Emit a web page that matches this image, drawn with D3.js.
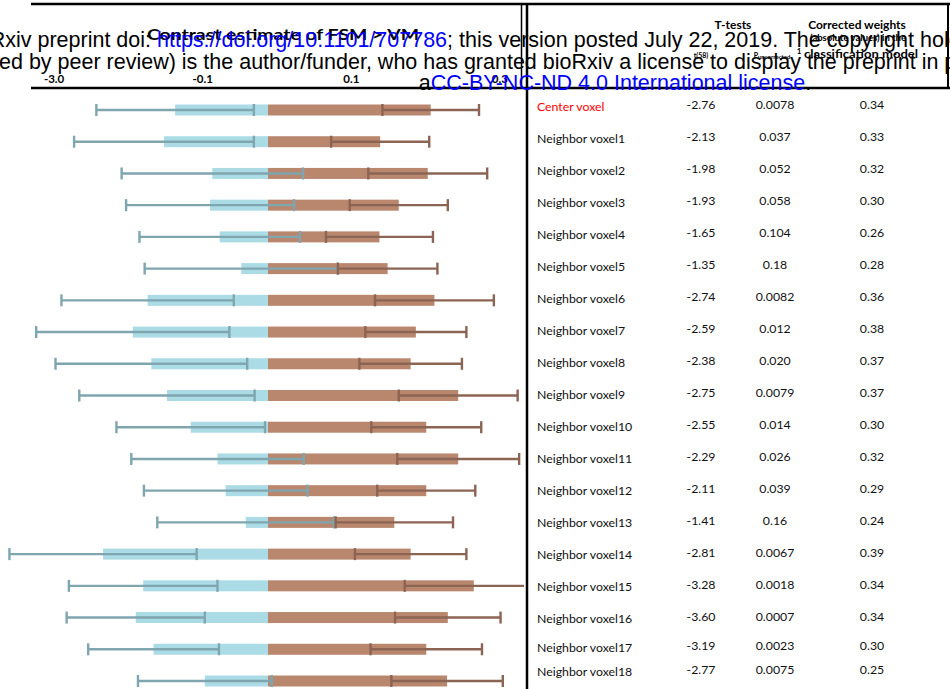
<!DOCTYPE html>
<html>
<head>
<meta charset="utf-8">
<script src="https://cdn.jsdelivr.net/npm/d3@7/dist/d3.min.js"></script>
<style>
  html, body { margin: 0; padding: 0; background: #fff; }
  svg { display: block; }
</style>
</head>
<body>
<svg id="chart" width="950" height="689"></svg>
<script>
// Voxel rows (top to bottom)
const categories = [
  "Center voxel", "Neighbor voxel1", "Neighbor voxel2", "Neighbor voxel3",
  "Neighbor voxel4", "Neighbor voxel5", "Neighbor voxel6", "Neighbor voxel7",
  "Neighbor voxel8", "Neighbor voxel9", "Neighbor voxel10", "Neighbor voxel11",
  "Neighbor voxel12", "Neighbor voxel13", "Neighbor voxel14", "Neighbor voxel15",
  "Neighbor voxel16", "Neighbor voxel17", "Neighbor voxel18"
];

// Contrast estimates (mean and error half-width) for the two groups
const groupAMean = [-0.125, -0.140, -0.075, -0.078, -0.065, -0.036, -0.162, -0.182, -0.157, -0.136,
                    -0.104, -0.068, -0.057, -0.030, -0.222, -0.168, -0.178, -0.154, -0.085];
const groupAErr  = [0.106, 0.121, 0.122, 0.113, 0.108, 0.130, 0.116, 0.130, 0.129, 0.118,
                    0.100, 0.116, 0.110, 0.119, 0.126, 0.100, 0.093, 0.088, 0.090];
const groupBMean = [0.219, 0.151, 0.215, 0.176, 0.150, 0.161, 0.224, 0.199, 0.192, 0.256,
                    0.213, 0.256, 0.213, 0.170, 0.192, 0.277, 0.242, 0.213, 0.241];
const groupBErr  = [0.065, 0.066, 0.080, 0.066, 0.072, 0.067, 0.080, 0.068, 0.069, 0.080,
                    0.074, 0.082, 0.066, 0.079, 0.075, 0.093, 0.071, 0.075, 0.075];

// Table columns
const tValues = [-2.76, -2.13, -1.98, -1.93, -1.65, -1.35, -2.74, -2.59, -2.38, -2.75,
                 -2.55, -2.29, -2.11, -1.41, -2.81, -3.28, -3.60, -3.19, -2.77];
const pLabels = ["0.0078", "0.037", "0.052", "0.058", "0.104", "0.18", "0.0082", "0.012", "0.020", "0.0079",
                 "0.014", "0.026", "0.039", "0.16", "0.0067", "0.0018", "0.0007", "0.0023", "0.0075"];
const weightLabels = ["0.34", "0.33", "0.32", "0.30", "0.26", "0.28", "0.36", "0.38", "0.37", "0.37",
                      "0.30", "0.32", "0.29", "0.24", "0.39", "0.34", "0.34", "0.30", "0.25"];

// Axis ticks as printed in the header
const tickValues = [-0.3, -0.1, 0.1, 0.3];
const tickLabels = ["-3.0", "-0.1", "0.1", "0.3"];

const svg = d3.select("#chart");
const chartFont = "Lato, 'Open Sans', sans-serif";

const x = d3.scaleLinear().domain([-0.3, 0.3]).range([45.1, 490.9]);
const y = d3.scalePoint().domain(categories).range([110, 681]);
// Table rows: the last two rows sit closer together
const yTable = d3.scaleLinear().domain([0, 16, 17, 18]).range([106.7, 618.7, 648, 672]).clamp(true);

const barH = 11;
const capH = 12;
const colA = "#abdce6", colAErr = "#7fa5af";
const colB = "#b9876e", colBErr = "#8c6454";

const rows = categories.map((c, i) => ({
  cat: c, aM: groupAMean[i], aE: groupAErr[i], bM: groupBMean[i], bE: groupBErr[i]
}));

// ---- bar panel ----
svg.append("defs").append("clipPath").attr("id", "plotClip")
  .append("rect").attr("x", 0).attr("y", 90).attr("width", 524).attr("height", 600);

const plot = svg.append("g").attr("clip-path", "url(#plotClip)");

plot.selectAll("rect.barA").data(rows).join("rect")
  .attr("class", "barA")
  .attr("x", d => x(d.aM)).attr("width", d => x(0) - x(d.aM))
  .attr("y", d => y(d.cat) - barH / 2).attr("height", barH)
  .attr("fill", colA);

plot.selectAll("rect.barB").data(rows).join("rect")
  .attr("class", "barB")
  .attr("x", x(0)).attr("width", d => x(d.bM) - x(0))
  .attr("y", d => y(d.cat) - barH / 2).attr("height", barH)
  .attr("fill", colB);

function errorBars(cls, mean, err, color) {
  const g = plot.selectAll("g." + cls).data(rows).join("g").attr("class", cls)
    .attr("stroke", color);
  g.append("line")
    .attr("x1", d => x(mean(d) - err(d))).attr("x2", d => x(mean(d) + err(d)))
    .attr("y1", d => y(d.cat)).attr("y2", d => y(d.cat))
    .attr("stroke-width", 2.4);
  [-1, 1].forEach(s => {
    g.append("line")
      .attr("x1", d => x(mean(d) + s * err(d))).attr("x2", d => x(mean(d) + s * err(d)))
      .attr("y1", d => y(d.cat) - capH / 2).attr("y2", d => y(d.cat) + capH / 2)
      .attr("stroke-width", 2.4);
  });
}
errorBars("errA", d => d.aM, d => d.aE, colAErr);
errorBars("errB", d => d.bM, d => d.bE, colBErr);

// ---- frame lines ----
const frame = svg.append("g").attr("stroke", "#000");
frame.append("line").attr("x1", 31).attr("x2", 950).attr("y1", 4).attr("y2", 4).attr("stroke-width", 2.5);
frame.append("line").attr("x1", 31).attr("x2", 950).attr("y1", 88).attr("y2", 88).attr("stroke-width", 2.5);
frame.append("line").attr("x1", 527).attr("x2", 527).attr("y1", 3).attr("y2", 689).attr("stroke-width", 2.5);
frame.append("line").attr("x1", 521.5).attr("x2", 521.5).attr("y1", 3).attr("y2", 88).attr("stroke-width", 1.5);
frame.append("line").attr("x1", 948).attr("x2", 948).attr("y1", 3).attr("y2", 88).attr("stroke-width", 2);

// ---- bar panel header ----
svg.append("text")
  .attr("x", 283).attr("y", 40).attr("text-anchor", "middle")
  .attr("font-family", chartFont).attr("font-weight", "bold").attr("font-size", 16)
  .attr("textLength", 272).attr("lengthAdjust", "spacingAndGlyphs")
  .text("Contrast estimate of FSM > VM");

svg.selectAll("text.tick").data(tickValues).join("text")
  .attr("class", "tick")
  .attr("x", d => x(d) + 9).attr("y", 83).attr("text-anchor", "middle")
  .attr("font-family", chartFont).attr("font-weight", "bold").attr("font-size", 11.5)
  .text((d, i) => tickLabels[i]);

// ---- table header ----
const hdr = svg.append("g").attr("font-family", chartFont).attr("font-weight", "bold").attr("text-anchor", "middle");
hdr.append("text").attr("x", 733).attr("y", 29).attr("font-size", 12).text("T-tests");
hdr.append("text").attr("x", 857).attr("y", 29).attr("font-size", 12).text("Corrected weights");
hdr.append("text").attr("x", 858).attr("y", 41).attr("font-size", 9.5).text("(absolute values) in the");
hdr.append("text").attr("x", 861).attr("y", 58).attr("font-size", 11.5)
  .attr("textLength", 114).attr("lengthAdjust", "spacingAndGlyphs").text("classification model");
hdr.append("text").attr("x", 701).attr("y", 58).attr("font-size", 7).text("t(58)");
const pt = hdr.append("text").attr("x", 772).attr("y", 58).attr("font-size", 7);
pt.append("tspan").text("P");
pt.append("tspan").attr("font-size", 6).attr("dy", 1).text("uncorrected");
hdr.append("text").attr("x", 799).attr("y", 54).attr("font-size", 8).text("1");

// ---- table body ----
const body = svg.append("g").attr("font-family", chartFont).attr("font-size", 12.3).attr("fill", "#111");
body.selectAll("text.lbl").data(categories).join("text")
  .attr("class", "lbl")
  .attr("x", 537).attr("y", (d, i) => yTable(i) + 4.4)
  .attr("fill", (d, i) => i === 0 ? "#ff0000" : "#111")
  .text(d => d);
body.selectAll("text.tv").data(tValues).join("text")
  .attr("class", "tv").attr("text-anchor", "middle")
  .attr("x", 701).attr("y", (d, i) => yTable(i) + 2.2)
  .text(d => d.toFixed(2));
body.selectAll("text.pv").data(pLabels).join("text")
  .attr("class", "pv").attr("text-anchor", "middle")
  .attr("x", 775).attr("y", (d, i) => yTable(i) + 2.2)
  .text(d => d);
body.selectAll("text.wv").data(weightLabels).join("text")
  .attr("class", "wv").attr("text-anchor", "middle")
  .attr("x", 872).attr("y", (d, i) => yTable(i) + 2.2)
  .text(d => d);

// ---- preprint notice printed across the top ----
const notice = svg.append("g").attr("font-family", "'Liberation Sans', Arial, sans-serif").attr("font-size", 21.5);
function noticeLine(yPos, parts, anchorIndex, anchorX) {
  const t = notice.append("text").attr("y", yPos).attr("x", 0);
  const spans = parts.map(p => t.append("tspan").attr("fill", p[1]).text(p[0]));
  let pre = 0;
  for (let k = 0; k < anchorIndex; k++) pre += spans[k].node().getComputedTextLength();
  t.attr("x", anchorX - pre);
  return t;
}
noticeLine(47, [
  ["bioRxiv preprint doi: ", "#000"],
  ["https://doi.org/10.1101/707786", "#0000ff"],
  ["; this version posted July 22, 2019. The copyright holder for this preprint (which was not", "#000"]
], 1, 157);
noticeLine(68.5, [
  ["certifi", "#000"],
  ["ed by peer review) is the author/funder, who has granted bioRxiv a license to display the preprint in perpetuity. It is made available under", "#000"]
], 1, -1);
noticeLine(90, [
  ["a", "#000"],
  ["CC-BY-NC-ND 4.0 International license", "#0000ff"],
  [".", "#000"]
], 0, 0).attr("x", 615).attr("text-anchor", "middle");
</script>
</body>
</html>
